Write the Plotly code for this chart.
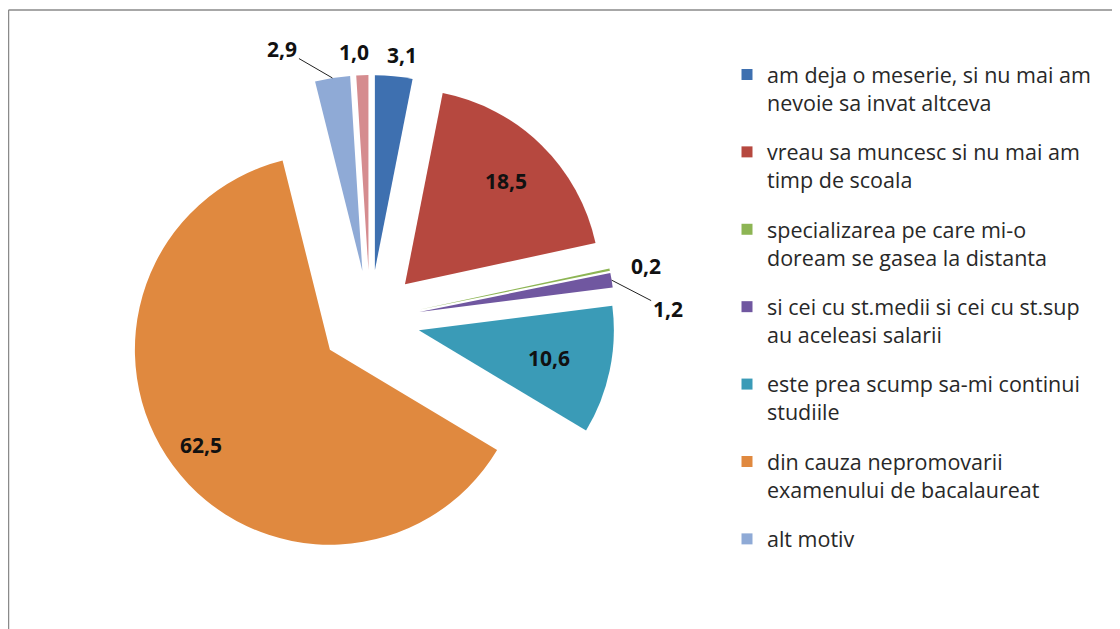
import math
import plotly.graph_objects as go

# ---------------- Data ----------------
labels = [
    "am deja o meserie, si nu mai am<br>nevoie sa invat altceva",
    "vreau sa muncesc si nu mai am<br>timp de scoala",
    "specializarea pe care mi-o<br>doream se gasea la distanta",
    "si cei cu st.medii si cei cu st.sup<br>au aceleasi salarii",
    "este prea scump sa-mi continui<br>studiile",
    "din cauza nepromovarii<br>examenului de bacalaureat",
    "alt motiv",
    "alt motiv (2)",
]
values = [3.1, 18.5, 0.2, 1.2, 10.6, 62.5, 2.9, 1.0]
in_legend = [True, True, True, True, True, True, True, False]

colors = ["#3E70B0", "#B6483F", "#8DB554", "#7057A0", "#3A9BB7", "#E0893F", "#8FAAD6", "#D58C8F"]

# ---------------- Label placement (styling, not data) ----------------
# ("in", radial fraction) or ("out", dx px, dy px, leader line?)
label_style = [
    ("out", 8, -21, False),
    ("in", 0.74),
    ("out", 36, -4, False),
    ("out", 56, 29, True),
    ("in", 0.68),
    ("in", 0.82),
    ("out", -50, -29, True),
    ("out", -8, -23, False),
]

W, H = 1120, 629
OFF = 8  # page body margin in the browser
PULL = 0.256
CX, CY, R = 370, 320, 195  # pie centre and radius in screen px
BOX = R * (1 + PULL)


def px(xs):
    return (xs - OFF) / W


def py(ys):
    return 1 - (ys - OFF) / H


def fmt(v):
    return f"{v:.1f}".replace(".", ",")


fig = go.Figure()
fig.add_trace(go.Pie(
    labels=labels,
    values=values,
    sort=False,
    direction="clockwise",
    rotation=0,
    pull=[PULL] * len(values),
    marker=dict(colors=colors, line=dict(width=0)),
    textinfo="none",
    showlegend=False,
    automargin=False,
    domain=dict(x=[px(CX - BOX), px(CX + BOX)], y=[py(CY + BOX), py(CY - BOX)]),
    hoverinfo="label+value",
))

# Legend entries (one legend group each, to control spacing)
for i, (lab, col, show) in enumerate(zip(labels, colors, in_legend)):
    if not show:
        continue
    fig.add_trace(go.Scatter(
        x=[None], y=[None], mode="markers", name=lab,
        marker=dict(symbol="square", size=11, color=col),
        legendgroup=f"g{i}", showlegend=True, hoverinfo="skip",
    ))

# Value labels, positioned from the slice geometry
annotations = []
total = sum(values)
cum = 0.0
lab_font = dict(family="Open Sans", size=21, color="#111111", weight="bold")
for v, st in zip(values, label_style):
    th = math.radians((cum + v / 2) / total * 360)
    cum += v
    ux, uy = math.sin(th), -math.cos(th)
    ax0, ay0 = CX + PULL * R * ux, CY + PULL * R * uy  # apex of exploded slice
    if st[0] == "in":
        f = st[1]
        annotations.append(dict(x=px(ax0 + f * R * ux), y=py(ay0 + f * R * uy),
                                xref="paper", yref="paper", text=fmt(v), showarrow=False,
                                xanchor="center", yanchor="middle", font=lab_font))
    else:
        _, dx, dy, leader = st
        ex, ey = ax0 + R * ux, ay0 + R * uy
        if leader:
            annotations.append(dict(x=px(ex), y=py(ey), xref="paper", yref="paper",
                                    text=fmt(v), showarrow=True, ax=dx, ay=dy,
                                    arrowhead=0, arrowwidth=1, arrowcolor="#222222",
                                    standoff=0, font=lab_font))
        else:
            annotations.append(dict(x=px(ex + dx), y=py(ey + dy), xref="paper", yref="paper",
                                    text=fmt(v), showarrow=False,
                                    xanchor="center", yanchor="middle", font=lab_font))

fig.update_layout(
    width=W, height=H,
    margin=dict(l=0, r=0, t=0, b=0),
    paper_bgcolor="white", plot_bgcolor="white",
    separators=",.",
    xaxis=dict(visible=False), yaxis=dict(visible=False),
    annotations=annotations,
    legend=dict(
        x=px(727), y=py(54), xanchor="left", yanchor="top",
        font=dict(family="Open Sans", size=21.5, color="#282828"),
        traceorder="grouped", tracegroupgap=18.5, valign="top",
        itemwidth=30, bgcolor="rgba(0,0,0,0)",
    ),
    shapes=[
        dict(type="line", xref="paper", yref="paper", x0=px(8.5), x1=1.0, y0=py(10), y1=py(10),
             line=dict(color="#8a8a8a", width=1.5)),
        dict(type="line", xref="paper", yref="paper", x0=px(8.5), x1=px(8.5), y0=0, y1=py(10),
             line=dict(color="#8a8a8a", width=1.5)),
    ],
)

fig.write_html("out.html")
